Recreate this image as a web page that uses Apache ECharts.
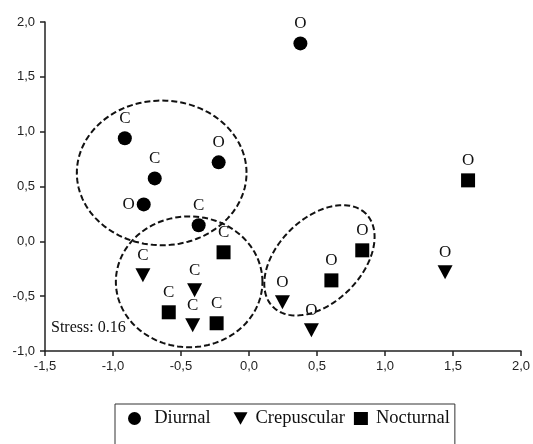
<!DOCTYPE html>
<html>
<head>
<meta charset="utf-8">
<script src="https://cdn.jsdelivr.net/npm/echarts@6/dist/echarts.min.js"></script>
<style>
  html, body { margin: 0; padding: 0; background: #fff; }
  #chart { width: 533px; height: 444px; }
</style>
</head>
<body>
<div id="chart"></div>
<script>
// NMDS ordination points: [x, y, label]
var diurnal = [
  [-0.913, 0.94, 'C'],
  [-0.693, 0.574, 'C'],
  [-0.223, 0.72, 'O'],
  [-0.774, 0.337, 'O'],
  [-0.37, 0.146, 'C'],
  [0.378, 1.805, 'O']
];
var crepuscular = [
  [-0.78, -0.31, 'C'],
  [-0.40, -0.447, 'C'],
  [-0.414, -0.766, 'C'],
  [0.246, -0.556, 'O'],
  [0.459, -0.81, 'O'],
  [1.442, -0.283, 'O']
];
var nocturnal = [
  [-0.187, -0.1, 'C'],
  [-0.59, -0.647, 'C'],
  [-0.238, -0.747, 'C'],
  [0.606, -0.356, 'O'],
  [0.833, -0.082, 'O'],
  [1.611, 0.556, 'O']
];
// group ellipses: [centerX, centerY, semiAxisA, semiAxisB (x-axis units), rotation deg]
var ellipses = [
  [-0.642, 0.624, 0.624, 0.532, 0],
  [-0.44, -0.369, 0.539, 0.481, 0],
  [0.518, -0.173, 0.484, 0.308, 45]
];
var stressText = 'Stress: 0.16';

var serif = '"Liberation Serif", "Times New Roman", serif';
var triDown = 'path://M0,0 L10,0 L5,9 Z';

function pointLabels(arr) {
  return arr.map(function (p, i) {
    var d = { value: [p[0], p[1]], name: p[2] };
    // the one label written left of its point
    if (arr === diurnal && i === 3) {
      d.label = { position: 'left', distance: 2 };
    }
    return d;
  });
}

var labelStyle = {
  show: true,
  position: 'top',
  distance: 4,
  formatter: '{b}',
  fontFamily: serif,
  fontSize: 17,
  color: '#111'
};

var myChart = echarts.init(document.getElementById('chart'));
myChart.setOption({
  backgroundColor: '#fff',
  animation: false,
  grid: { left: 45, right: 11, top: 22, bottom: 93 },
  xAxis: {
    type: 'value',
    min: -1.5, max: 2, interval: 0.5,
    splitLine: { show: false },
    axisLine: { onZero: false, lineStyle: { color: '#222', width: 1.5 } },
    axisTick: { show: true, length: 5, lineStyle: { color: '#222', width: 1.5 } },
    axisLabel: {
      margin: 9, fontSize: 13, color: '#222', fontFamily: '"Liberation Sans", Arial, sans-serif',
      formatter: function (v) { return v.toFixed(1).replace('.', ','); }
    }
  },
  yAxis: {
    type: 'value',
    min: -1, max: 2, interval: 0.5,
    splitLine: { show: false },
    axisLine: { show: true, onZero: false, lineStyle: { color: '#222', width: 1.5 } },
    axisTick: { show: true, length: 5, lineStyle: { color: '#222', width: 1.5 } },
    axisLabel: {
      margin: 10, fontSize: 13, color: '#222', fontFamily: '"Liberation Sans", Arial, sans-serif',
      formatter: function (v) { return v.toFixed(1).replace('.', ','); }
    }
  },
  legend: {
    data: ['Diurnal', 'Crepuscular', 'Nocturnal'],
    left: 115,
    top: 404,
    padding: [5, 5, 40, 13],
    borderColor: '#333',
    borderWidth: 1,
    itemWidth: 14,
    itemHeight: 13,
    itemGap: 9,
    itemStyle: { opacity: 1 },
    formatter: function (name) {
      // wider spacing around the first entry, as in the original
      return name === 'Diurnal' ? '\u00a0' + name + '\u00a0\u00a0\u00a0' : name;
    },
    textStyle: { fontFamily: serif, fontSize: 18.5, color: '#111', padding: [0, 0, 0, 3] }
  },
  graphic: [
    {
      type: 'text',
      left: 51,
      top: 320,
      style: { text: stressText, font: '16px ' + serif, fill: '#111' }
    }
  ],
  series: [
    {
      type: 'custom',
      silent: true,
      z: 1,
      encode: { x: 0, y: 1 },
      data: ellipses,
      renderItem: function (params, api) {
        var c = api.coord([api.value(0), api.value(1)]);
        var sx = api.size([1, 0])[0];
        var a = api.value(2) * sx, b = api.value(3) * sx;
        var th = api.value(4) * Math.PI / 180;
        var pts = [];
        for (var k = 0; k < 120; k++) {
          var t = k / 120 * Math.PI * 2;
          var ex = a * Math.cos(t), ey = b * Math.sin(t);
          pts.push([c[0] + ex * Math.cos(th) - ey * Math.sin(th),
                    c[1] - (ex * Math.sin(th) + ey * Math.cos(th))]);
        }
        return {
          type: 'polygon',
          shape: { points: pts },
          style: { fill: 'none', stroke: '#111', lineWidth: 2, lineDash: [6, 3] }
        };
      }
    },
    {
      name: 'Diurnal',
      type: 'scatter',
      symbol: 'circle',
      symbolSize: 14,
      itemStyle: { color: '#000', opacity: 1 },
      label: labelStyle,
      data: pointLabels(diurnal),
      z: 3
    },
    {
      name: 'Crepuscular',
      type: 'scatter',
      symbol: triDown,
      symbolSize: [15, 14],
      itemStyle: { color: '#000', opacity: 1 },
      label: labelStyle,
      data: pointLabels(crepuscular),
      z: 3
    },
    {
      name: 'Nocturnal',
      type: 'scatter',
      symbol: 'rect',
      symbolSize: 14,
      itemStyle: { color: '#000', opacity: 1 },
      label: labelStyle,
      data: pointLabels(nocturnal),
      z: 3
    }
  ]
});
</script>
</body>
</html>
